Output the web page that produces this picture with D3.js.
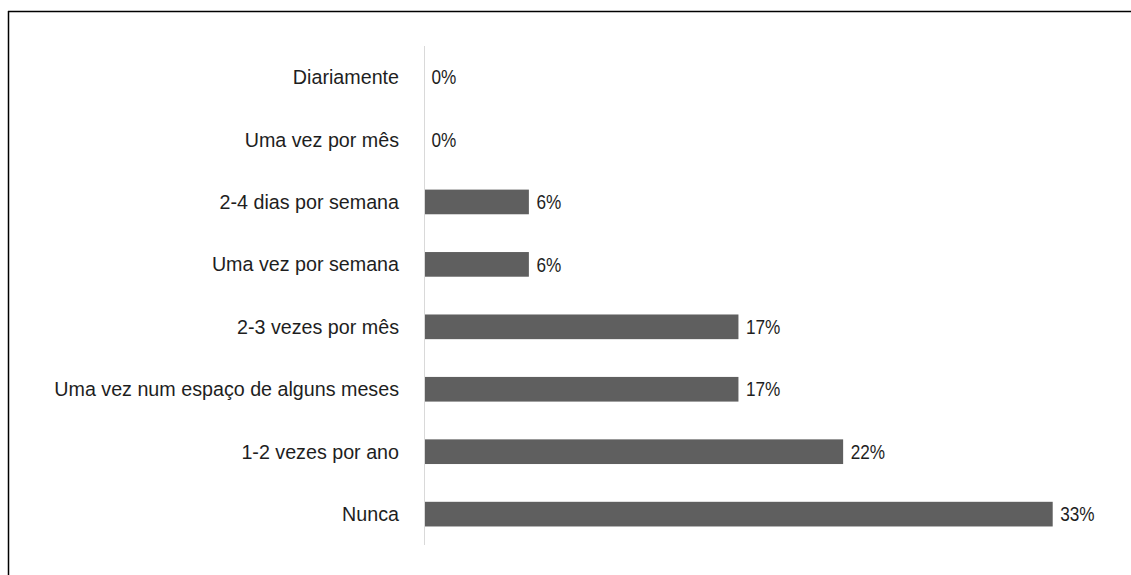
<!DOCTYPE html>
<html>
<head>
<meta charset="utf-8">
<script src="https://cdn.jsdelivr.net/npm/d3@7/dist/d3.min.js"></script>
<style>
  html, body { margin: 0; padding: 0; background: #fff; }
  svg { display: block; }
  text { font-family: "Liberation Sans", Arial, sans-serif; fill: #1e1e1e; }
</style>
</head>
<body>
<svg id="chart" width="1131" height="575"></svg>
<script>
// Frequency categories, top to bottom
const categories = [
  "Diariamente",
  "Uma vez por mês",
  "2-4 dias por semana",
  "Uma vez por semana",
  "2-3 vezes por mês",
  "Uma vez num espaço de alguns meses",
  "1-2 vezes por ano",
  "Nunca"
];
// Share of respondents, in percent
const values = [0, 0, 5.56, 5.56, 16.67, 16.67, 22.22, 33.33];

const svg = d3.select("#chart");
const W = 1131, H = 575;

// Frame lines along the top and left edges
svg.append("line").attr("x1", 8).attr("x2", W).attr("y1", 11.5).attr("y2", 11.5)
  .attr("stroke", "#000").attr("stroke-width", 1.5);
svg.append("line").attr("x1", 8.5).attr("x2", 8.5).attr("y1", 11).attr("y2", H)
  .attr("stroke", "#000").attr("stroke-width", 1.5);

const x0 = 424;
const x = d3.scaleLinear().domain([0, 33.33]).range([x0, 1052.7]);
const y = d3.scaleBand().domain(categories).range([46, 545.2]).paddingInner(0.605).paddingOuter(0.3);

const data = categories.map((c, i) => ({ c, v: values[i] }));
const fmt = v => Math.round(v) + "%";

// Bars
svg.append("g").selectAll("rect").data(data).join("rect")
  .attr("x", x0)
  .attr("y", d => y(d.c))
  .attr("width", d => x(d.v) - x0)
  .attr("height", y.bandwidth())
  .attr("fill", "#5f5f5f");

// Category axis
const axis = svg.append("g").attr("transform", `translate(${x0},0)`)
  .call(d3.axisLeft(y).tickSize(0).tickPadding(25));
axis.select(".domain").attr("stroke", "#d9d9d9").attr("stroke-width", 1)
  .attr("d", `M0.5,46V545`);
axis.attr("font-family", null).attr("font-size", null);
axis.selectAll("text").attr("font-size", 19.7).attr("dy", "0.36em");

// Value labels, set in a slightly condensed face
svg.append("g").selectAll("text").data(data).join("text")
  .attr("transform", d => `translate(${x(d.v) + 7.5},${y(d.c) + y.bandwidth() / 2}) scale(0.86,1)`)
  .attr("dy", "0.36em")
  .attr("font-size", 20)
  .text(d => fmt(d.v));
</script>
</body>
</html>
